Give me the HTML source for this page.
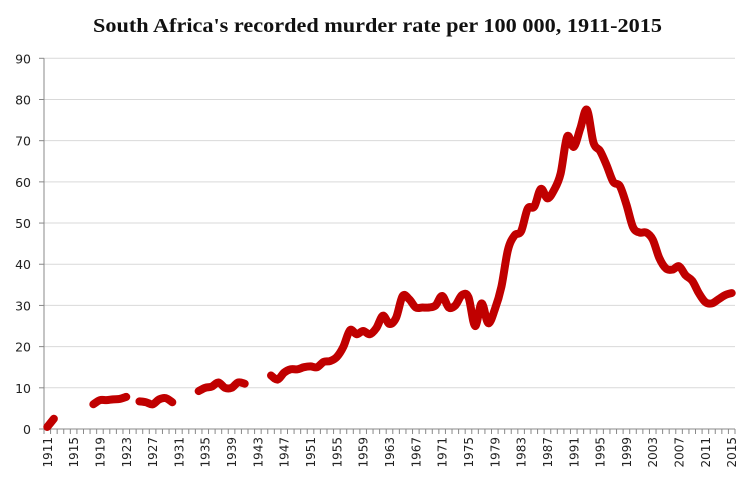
<!DOCTYPE html>
<html><head><meta charset="utf-8">
<style>
html,body{margin:0;padding:0;background:#fff;}
svg{display:block;}
</style></head>
<body>
<svg id="chart" width="754" height="486" viewBox="0 0 754 486" xmlns="http://www.w3.org/2000/svg">
<text x="93" y="32" textLength="569" lengthAdjust="spacingAndGlyphs" font-family="Liberation Serif, serif" font-weight="bold" font-size="19.5" fill="#111">South Africa's recorded murder rate per 100 000, 1911-2015</text>
<g id="grid"></g>
<g id="yaxis"></g>
<g id="xaxis"></g>
<g id="series"></g>
</svg>
<script>
const startYear = 1911;
const endYear = 2015;
const yTicks = [0,10,20,30,40,50,60,70,80,90];
const xLabelYears = [1911,1915,1919,1923,1927,1931,1935,1939,1943,1947,1951,1955,1959,1963,1967,1971,1975,1979,1983,1987,1991,1995,1999,2003,2007,2011,2015];
const years = [];
for (let y = 1911; y <= 2015; y++) years.push(y);
const murderRate = [
0.5,2.5,null,null,null,null,null,6,7,7,7.2,7.3,7.8,null,6.7,6.5,6.0,7.2,7.5,6.5,
null,null,null,9.2,10,10.3,11.3,10,10,11.3,11,null,null,null,13,12,13.7,14.5,14.5,15,
15.2,15,16.3,16.5,17.5,20,24,23,23.8,23,24.5,27.5,25.5,27,32.3,31.5,29.5,29.5,29.5,30,
32.3,29.5,30,32.5,32,25,30.5,25.7,29,34.5,43.5,47,48,53.5,54,58.3,56,58,62,71,
68.5,73,77.5,69.5,67.5,64,60,59,54.5,49,47.7,47.7,46,41.5,39,38.7,39.5,37.3,36,33,
30.8,30.5,31.5,32.5,33
];
const NS = 'http://www.w3.org/2000/svg';
const X0 = 44, X1 = 735, Y0 = 429, Y90 = 58.3;
const nCat = endYear - startYear + 1;
const cw = (X1 - X0) / nCat;
function xScale(yr){ return X0 + (yr - startYear + 0.5) * cw; }
function yScale(v){ return Y0 - v * (Y0 - Y90) / 90; }
function mk(tag, attrs, parent){ const e = document.createElementNS(NS, tag); for (const k in attrs) e.setAttribute(k, attrs[k]); parent.appendChild(e); return e; }
const grid = document.getElementById('grid');
const yaxis = document.getElementById('yaxis');
const xaxis = document.getElementById('xaxis');
const series = document.getElementById('series');
yTicks.forEach(t => {
  const y = yScale(t);
  if (t > 0) {
    const g = mk('line', {x1:X0, x2:X1, y1:y, y2:y, stroke:'#d9d9d9', 'stroke-width':1}, grid);
    
    
  }
  const tk = mk('line', {x1:X0-5, x2:X0, y1:y, y2:y, stroke:'#888', 'stroke-width':1}, yaxis);
  
  
  const lb = mk('text', {x:31, y:y+5, 'text-anchor':'end', 'font-family':'DejaVu Sans, sans-serif', 'font-size':12.5, fill:'#222'}, yaxis);
  lb.textContent = t;
  
  
});
const ya = mk('line', {x1:X0, x2:X0, y1:Y90, y2:Y0, stroke:'#888', 'stroke-width':1}, yaxis);


const xa = mk('line', {x1:X0, x2:X1, y1:Y0, y2:Y0, stroke:'#888', 'stroke-width':1}, xaxis);


for (let i = 0; i <= nCat; i++) {
  const x = X0 + i * cw;
  const t = mk('line', {x1:x, x2:x, y1:Y0, y2:Y0+5, stroke:'#888', 'stroke-width':1}, xaxis);
  
  
}
xLabelYears.forEach(yr => {
  const x = xScale(yr) + 4.5;
  const lb = mk('text', {x:0, y:0, transform:'translate(' + x + ',437) rotate(-90)', 'text-anchor':'end', 'font-family':'DejaVu Sans, sans-serif', 'font-size':12, fill:'#222'}, xaxis);
  lb.textContent = yr;
  
  
});
const segs = [];
let cur = [];
murderRate.forEach((v, i) => {
  if (v === null) { if (cur.length) segs.push(cur); cur = []; }
  else cur.push([xScale(years[i]), yScale(v)]);
});
if (cur.length) segs.push(cur);
segs.forEach((p, si) => {
  let d = 'M' + p[0][0] + ',' + p[0][1];
  for (let i = 0; i < p.length - 1; i++) {
    const p0 = p[i-1] || p[i], p1 = p[i], p2 = p[i+1], p3 = p[i+2] || p2;
    const t = 1/6;
    const c1 = [p1[0] + (p2[0]-p0[0])*t, p1[1] + (p2[1]-p0[1])*t];
    const c2 = [p2[0] - (p3[0]-p1[0])*t, p2[1] - (p3[1]-p1[1])*t];
    d += 'C' + c1[0] + ',' + c1[1] + ' ' + c2[0] + ',' + c2[1] + ' ' + p2[0] + ',' + p2[1];
  }
  const path = mk('path', {d:d, fill:'none', stroke:'#c00000', 'stroke-width':8, 'stroke-linecap':'round', 'stroke-linejoin':'round'}, series);
  
  
});
</script>
</body></html>
